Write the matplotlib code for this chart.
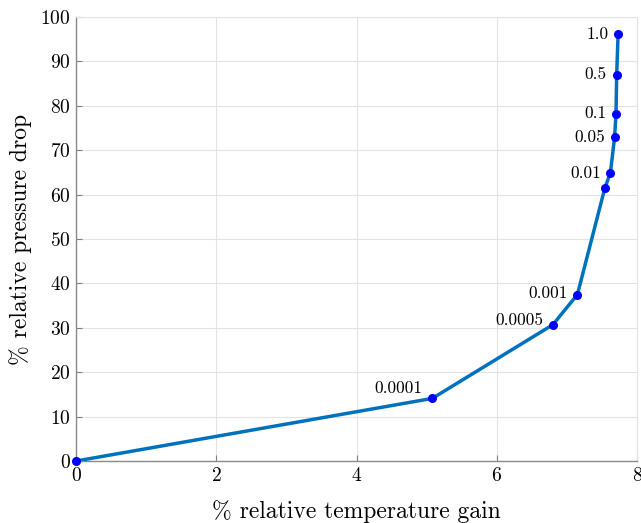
import numpy as np
import matplotlib
matplotlib.use("Agg")
import matplotlib.pyplot as plt

# Pareto-style trade-off: temperature gain vs pressure drop
temp_gain = [0.0, 5.08, 6.80, 7.15, 7.54, 7.62, 7.68, 7.70, 7.71, 7.73]
press_drop = [0.0, 14.1, 30.7, 37.5, 61.4, 64.9, 72.9, 78.2, 87.0, 96.2]
point_labels = ["", "0.0001", "0.0005", "0.001", "", "0.01", "0.05", "0.1", "0.5", "1.0"]
# label offsets in points (dx, dy)
label_offsets = [(0, 0), (-7, 7), (-7, 3), (-7, 1), (0, 0), (-7, 0), (-7, 0), (-7, 0), (-7, 0), (-7, 0)]

plt.rcParams['font.family'] = ['cmr10', 'DejaVu Serif']
plt.rcParams['axes.formatter.use_mathtext'] = True

fig = plt.figure(figsize=(6.41, 5.23), dpi=100)
ax = fig.add_axes([0.1186, 0.1185, 0.8752, 0.849])

ax.plot(temp_gain, press_drop, color="#0072BD", linewidth=2.5, zorder=3)
ax.plot(temp_gain, press_drop, 'o', color="blue", markersize=5.5, zorder=4, clip_on=False)

for x, y, lab, off in zip(temp_gain, press_drop, point_labels, label_offsets):
    if lab:
        ax.annotate(lab, (x, y), xytext=off, textcoords="offset points",
                    ha="right", va="center", fontsize=12.5)

ax.set_xlim(0, 8)
ax.set_ylim(0, 100)
ax.set_xticks([0, 2, 4, 6, 8])
ax.set_yticks(np.arange(0, 101, 10))
ax.set_xlabel("% relative temperature gain", fontsize=17, labelpad=11)
ax.set_ylabel("% relative pressure drop", fontsize=17, labelpad=6)
ax.tick_params(direction="in", labelsize=14, color="#808080", length=4, pad=4)

ax.grid(True, color="#e3e3e3", linewidth=0.8)
ax.set_axisbelow(True)
for side in ["left", "bottom"]:
    ax.spines[side].set_color("#8a8a8a")
    ax.spines[side].set_linewidth(1.0)
for side in ["top", "right"]:
    ax.spines[side].set_color("#e3e3e3")
    ax.spines[side].set_linewidth(0.8)

fig.savefig("out.png", dpi=100)
